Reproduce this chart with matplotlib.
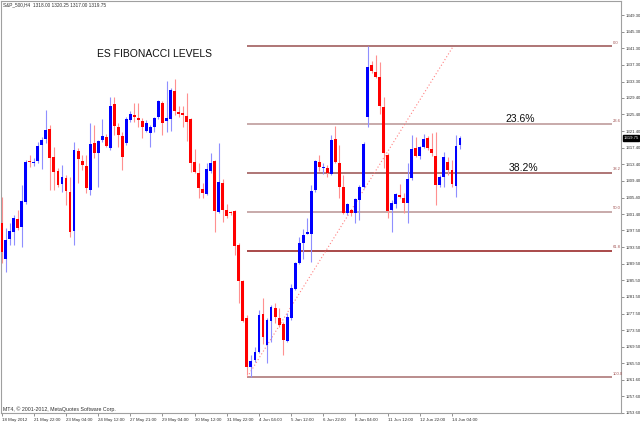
import matplotlib
matplotlib.use('Agg')
import matplotlib.pyplot as plt
import matplotlib.transforms as mtransforms
import numpy as np

plt.rcParams['font.family'] = ['Liberation Sans', 'DejaVu Sans']

# S&P_500 H4 bars, 18 May 2012 - 14 Jun 2012
opens = [1299.25, 1290.5, 1295.5, 1297.0, 1300.25, 1298.25, 1304.25, 1314.25, 1313.75, 1314.25,
         1318.0, 1319.5, 1322.0, 1315.25, 1311.75, 1308.75, 1310.0, 1306.75, 1297.25, 1316.5,
         1314.25, 1313.0, 1307.25, 1318.5, 1316.0, 1319.25, 1320.0, 1317.25, 1328.0, 1322.25,
         1320.25, 1318.5, 1324.0, 1325.25, 1324.5, 1323.75, 1321.5, 1321.0, 1322.25, 1324.75,
         1328.25, 1323.75, 1324.25, 1331.0, 1326.0, 1325.75, 1325.0, 1324.25, 1314.0, 1311.25,
         1307.5, 1306.25, 1311.75, 1314.25, 1302.0, 1309.0, 1302.5, 1302.0, 1302.25, 1294.0,
         1285.25, 1276.5, 1264.75, 1266.25, 1268.25, 1277.5, 1270.0, 1275.75, 1278.75, 1276.5,
         1275.0, 1271.0, 1276.5, 1283.5, 1289.75, 1294.5, 1296.75, 1296.75, 1307.25, 1314.0,
         1312.5, 1312.5, 1311.0, 1319.5, 1313.75, 1308.0, 1301.75, 1302.5, 1301.75, 1304.75,
         1308.0, 1324.75, 1337.25, 1335.5, 1334.5, 1327.25, 1315.75, 1302.5, 1303.75, 1306.0,
         1305.25, 1304.0, 1310.0, 1317.25, 1315.5, 1317.5, 1319.75, 1317.0, 1315.5, 1308.5,
         1310.25, 1314.0, 1312.0, 1308.25, 1318.0]
highs = [1305.5, 1298.0, 1299.25, 1301.25, 1302.5, 1308.5, 1314.5, 1315.75, 1315.0, 1318.75,
         1320.0, 1326.5, 1322.75, 1317.5, 1312.5, 1313.25, 1310.75, 1310.25, 1318.75, 1317.25,
         1315.75, 1315.75, 1323.25, 1322.75, 1319.25, 1324.25, 1320.75, 1329.5, 1329.5, 1323.25,
         1321.25, 1324.75, 1326.25, 1328.25, 1328.25, 1324.5, 1324.0, 1322.75, 1324.75, 1328.75,
         1328.5, 1333.5, 1331.75, 1334.0, 1327.5, 1327.5, 1330.5, 1324.5, 1317.0, 1313.75,
         1309.0, 1313.75, 1316.0, 1314.5, 1318.5, 1309.75, 1303.75, 1302.25, 1302.5, 1294.5,
         1285.5, 1277.25, 1267.5, 1269.5, 1278.25, 1281.25, 1276.5, 1279.5, 1280.0, 1278.75,
         1275.5, 1277.75, 1284.5, 1290.0, 1296.0, 1297.75, 1300.5, 1308.5, 1314.5, 1315.75,
         1313.75, 1313.25, 1320.5, 1322.5, 1318.0, 1310.75, 1304.0, 1302.75, 1305.25, 1308.5,
         1318.75, 1341.75, 1338.25, 1339.75, 1338.0, 1329.5, 1316.0, 1304.75, 1306.5, 1308.75,
         1306.5, 1313.75, 1320.5, 1320.0, 1317.75, 1320.75, 1320.25, 1321.0, 1321.25, 1310.75,
         1316.25, 1315.25, 1314.5, 1320.5, 1320.25]
lows = [1289.75, 1287.5, 1294.0, 1294.0, 1297.5, 1293.5, 1303.75, 1312.75, 1313.0, 1313.75,
        1312.25, 1318.5, 1307.25, 1307.25, 1308.0, 1306.75, 1303.5, 1296.0, 1294.0, 1309.0,
        1312.0, 1306.5, 1306.0, 1315.0, 1308.0, 1318.75, 1317.5, 1316.75, 1320.5, 1317.5,
        1312.0, 1318.0, 1323.5, 1323.5, 1322.25, 1319.75, 1321.25, 1317.5, 1321.25, 1324.25,
        1320.5, 1321.25, 1321.5, 1325.25, 1324.75, 1322.25, 1319.0, 1311.5, 1311.25, 1305.25,
        1305.25, 1306.0, 1311.25, 1297.0, 1301.75, 1299.5, 1300.5, 1301.25, 1291.5, 1280.0,
        1275.5, 1262.75, 1262.25, 1265.75, 1268.0, 1270.25, 1265.5, 1270.75, 1275.25, 1274.25,
        1267.5, 1270.75, 1276.0, 1283.25, 1289.5, 1290.5, 1296.75, 1290.0, 1306.75, 1311.75,
        1311.0, 1310.25, 1310.75, 1313.75, 1305.25, 1301.5, 1301.25, 1301.0, 1299.25, 1300.0,
        1307.75, 1322.25, 1335.25, 1334.25, 1325.5, 1312.5, 1300.5, 1297.0, 1303.0, 1305.25,
        1301.75, 1299.25, 1309.5, 1315.25, 1314.75, 1317.25, 1316.75, 1315.5, 1303.5, 1308.0,
        1308.0, 1310.75, 1308.0, 1305.5, 1317.0]
closes = [1292.25, 1295.25, 1297.25, 1300.5, 1298.0, 1304.5, 1314.0, 1314.0, 1314.0, 1317.75,
          1319.25, 1321.75, 1315.0, 1311.5, 1308.5, 1310.25, 1307.0, 1297.0, 1316.75, 1314.75,
          1313.25, 1307.75, 1318.25, 1316.0, 1319.0, 1320.25, 1317.75, 1327.5, 1322.5, 1320.5,
          1315.25, 1324.25, 1325.5, 1324.75, 1324.0, 1322.25, 1323.25, 1322.25, 1324.5, 1328.5,
          1323.25, 1324.5, 1331.25, 1326.25, 1325.5, 1325.25, 1323.5, 1313.75, 1311.5, 1307.75,
          1306.5, 1312.25, 1313.75, 1302.25, 1309.25, 1302.5, 1301.0, 1301.75, 1293.75, 1285.25,
          1275.75, 1264.75, 1266.0, 1268.25, 1277.25, 1271.75, 1276.0, 1279.0, 1276.75, 1274.75,
          1271.25, 1276.75, 1283.75, 1289.75, 1294.5, 1296.5, 1297.0, 1307.0, 1314.25, 1312.75,
          1312.75, 1311.25, 1319.25, 1314.0, 1308.0, 1301.75, 1303.75, 1301.75, 1305.0, 1308.0,
          1318.25, 1336.75, 1335.75, 1334.5, 1327.5, 1316.0, 1302.25, 1304.0, 1306.25, 1305.5,
          1304.0, 1309.75, 1317.0, 1315.5, 1317.5, 1319.5, 1317.25, 1316.0, 1308.5, 1310.25,
          1315.25, 1312.0, 1308.75, 1317.75, 1319.75]

time_labels = ['18 May 2012', '21 May 22:00', '23 May 04:00', '24 May 12:00', '27 May 21:00',
               '29 May 04:00', '30 May 12:00', '31 May 22:00', '4 Jun 04:00', '5 Jun 12:00',
               '6 Jun 22:00', '8 Jun 04:00', '11 Jun 12:00', '12 Jun 22:00', '14 Jun 04:00']

price_ticks = [1349.30, 1345.30, 1341.30, 1337.30, 1333.30, 1329.40, 1325.40, 1321.40, 1317.40,
               1313.40, 1309.40, 1305.40, 1301.40, 1297.50, 1293.50, 1289.50, 1285.50, 1281.50,
               1277.50, 1273.50, 1269.50, 1265.50, 1261.60, 1257.60, 1253.60]

# fibonacci retracement drawn on the chart
fib_high = 1341.75
fib_low = 1262.25
fib_start_bar = 61.1
fib_end_bar = 112.3
fib_levels = [0.0, 23.6, 38.2, 50.0, 61.8, 100.0]

o = np.array(opens)
h = np.array(highs)
l = np.array(lows)
c = np.array(closes)
x = np.arange(len(o))
up = c >= o

fig = plt.figure(figsize=(6.4, 4.23), dpi=100)
ax = fig.add_axes([1 / 640, 10 / 423, 620 / 640, 412 / 423])

# wicks (thin and pale, as the jpeg shows them)
ax.vlines(x[up], l[up], h[up], color='#8f8fff', linewidth=0.8, zorder=2)
ax.vlines(x[~up], l[~up], h[~up], color='#ff9090', linewidth=0.8, zorder=2)

# bodies
body_h = np.maximum(np.abs(c - o), 0.25)
body_b = np.minimum(o, c)
ax.bar(x[up], body_h[up], bottom=body_b[up], width=0.72, color='#0000ff', linewidth=0, zorder=3)
ax.bar(x[~up], body_h[~up], bottom=body_b[~up], width=0.72, color='#ff0000', linewidth=0, zorder=3)

# fib levels
rng = fib_high - fib_low
fib_colors = ['#a86a6a', '#c4a4a4', '#a86a6a', '#c4a4a4', '#a23c3c', '#b48484']
line_end = 151.8
for lev, col in zip(fib_levels, fib_colors):
    price = fib_high - rng * lev / 100
    ax.hlines(price, fib_start_bar, line_end, color=col, linewidth=1.3, zorder=1)
    ax.text(line_end + 0.2, price + 0.3, f'{lev:.1f}', fontsize=3.0, color='#a05050',
            ha='left', va='bottom')

ax.plot([fib_start_bar, fib_end_bar], [fib_low, fib_high], color='#ff8080', linestyle=(0, (1, 2)),
        linewidth=0.8, zorder=1)

ax.set_xlim(-0.17, 154.05)
ax.set_ylim(1253.58, 1352.67)

# axes styling like MT4
for s in ax.spines.values():
    s.set_color('#a0a0a0')
    s.set_linewidth(0.8)
ax.yaxis.tick_right()
ax.set_yticks(price_ticks)
ax.set_yticklabels([f'{p:.2f}' for p in price_ticks])
ax.tick_params(axis='y', length=2, width=0.6, color='#808080', labelsize=3.1,
               labelcolor='#303030', pad=1)
ax.set_xticks(np.arange(0, len(o), 8))
ax.set_xticklabels(time_labels, ha='left')
ax.tick_params(axis='x', length=2, width=0.6, color='#808080', labelsize=3.2,
               labelcolor='#303030', pad=1.5)

# current price marker
trans = mtransforms.blended_transform_factory(ax.transAxes, ax.transData)
ax.text(1.004, closes[-1], f'{closes[-1]:.2f}', transform=trans, fontsize=3.1, color='white',
        ha='left', va='center', bbox=dict(boxstyle='square,pad=0.15', fc='black', ec='black'))

# annotations
ax.text(23.7, 1339.9, 'ES FIBONACCI LEVELS', fontsize=7.5, color='#101010', va='center')
ax.text(125.2, 1324.4, '23.6%', fontsize=7.5, color='#101010', va='center')
ax.text(126.0, 1312.6, '38.2%', fontsize=7.5, color='#101010', va='center')

fig.text(3 / 640, 1 - 5 / 423, 'S&P_500,H4  1318.00 1320.25 1317.00 1319.75', fontsize=3.4,
         color='#303030', va='center')
fig.text(3 / 640, 1 - 409 / 423, 'MT4, \u00a9 2001-2012, MetaQuotes Software Corp.', fontsize=3.8,
         color='#303030', va='center')

fig.savefig('out.png', dpi=100)
